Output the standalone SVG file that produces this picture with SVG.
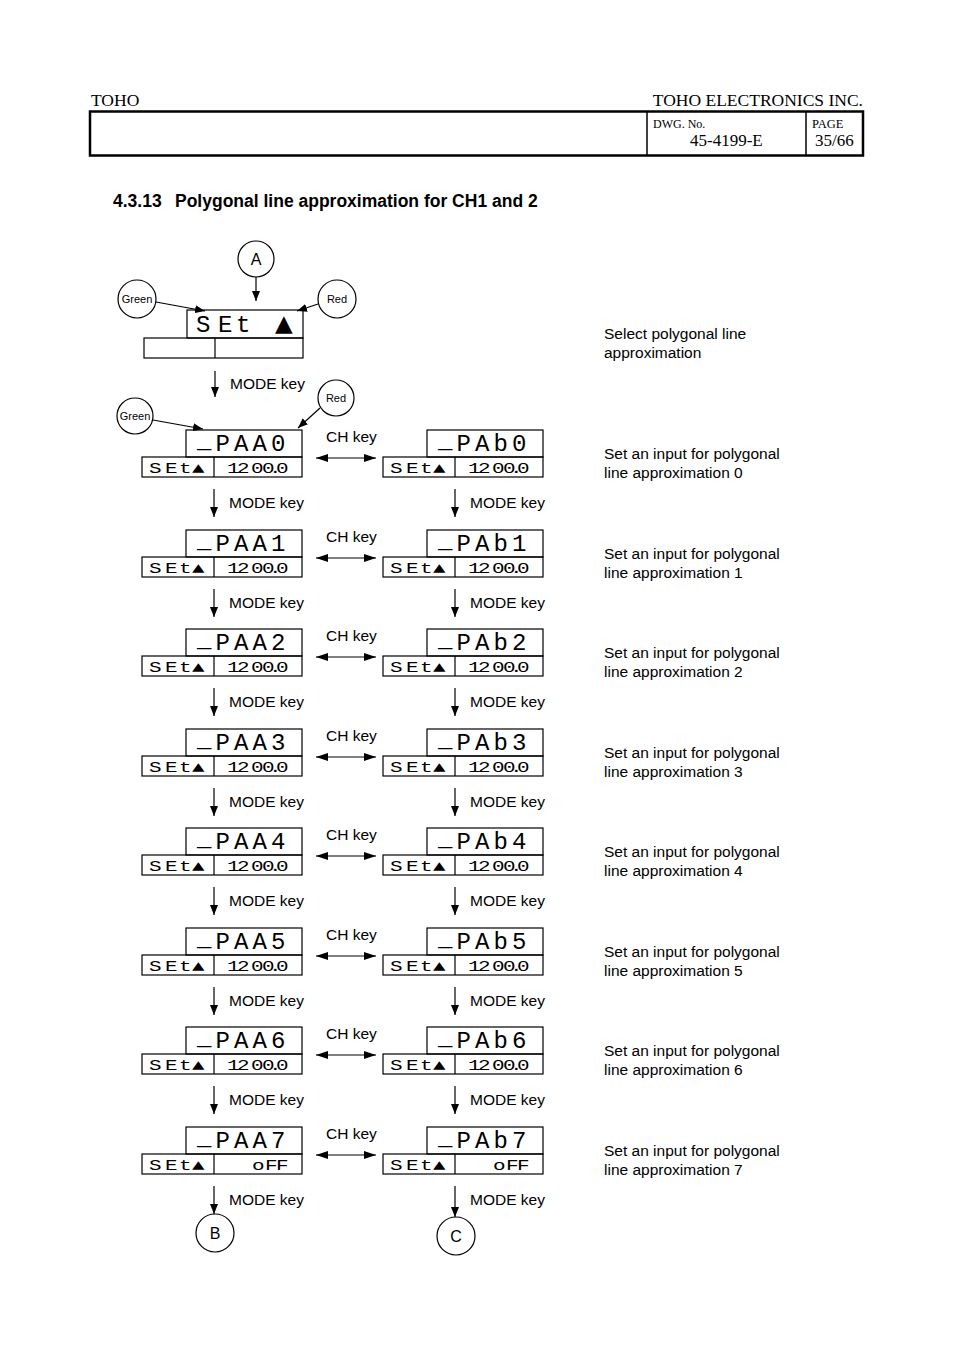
<svg xmlns="http://www.w3.org/2000/svg" width="954" height="1351" viewBox="0 0 954 1351">
<defs>
<style>
.bx{fill:none;stroke:#000;stroke-width:1.2}
.ln{stroke:#000;stroke-width:1.2;fill:none}
.hd{font-family:"Liberation Serif",serif;fill:#000}
.lb{font-family:"Liberation Sans",Arial,sans-serif;font-size:15.5px;fill:#000}
.sm{font-family:"Liberation Sans",Arial,sans-serif;font-size:11px;fill:#000;text-anchor:middle}
.cl{font-family:"Liberation Sans",Arial,sans-serif;font-size:16px;fill:#000;text-anchor:middle}
.up{font-family:"Liberation Mono","DejaVu Sans Mono",monospace;font-size:24px;fill:#000}
.lo{font-family:"Liberation Mono","DejaVu Sans Mono",monospace;font-size:15px;fill:#000}
.tri{font-family:"DejaVu Sans",sans-serif;fill:#000}
.cn{stroke:#000;stroke-width:1.2;fill:none}
</style>
<marker id="ah" viewBox="0 0 10 8" refX="10" refY="4" markerWidth="10" markerHeight="8" markerUnits="userSpaceOnUse" orient="auto-start-reverse"><path d="M0,0 L10,4 L0,8 Z" fill="#000"/></marker>
<marker id="ah2" viewBox="0 0 12 8" refX="12" refY="4" markerWidth="12" markerHeight="8" markerUnits="userSpaceOnUse" orient="auto-start-reverse"><path d="M0,0 L12,4 L0,8 Z" fill="#000"/></marker>
</defs>
<rect width="954" height="1351" fill="#fff"/>
<g id="header">
<text class="hd" x="91" y="106" font-size="17.5">TOHO</text>
<text class="hd" x="863" y="106" font-size="17.5" text-anchor="end">TOHO ELECTRONICS INC.</text>
<rect x="90" y="111.5" width="773" height="44" fill="none" stroke="#000" stroke-width="2.5"/>
<line x1="647" y1="111" x2="647" y2="156" stroke="#000" stroke-width="1.5"/>
<line x1="806" y1="111" x2="806" y2="156" stroke="#000" stroke-width="1.5"/>
<text class="hd" x="653" y="128" font-size="12">DWG. No.</text>
<text class="hd" x="690" y="146" font-size="17">45-4199-E</text>
<text class="hd" x="812" y="128" font-size="12.5">PAGE</text>
<text class="hd" x="815" y="146" font-size="17">35/66</text>
</g>
<g id="title" font-family="Liberation Sans,Arial,sans-serif" font-size="17.5" font-weight="bold">
<text x="113" y="207">4.3.13</text>
<text x="175" y="207">Polygonal line approximation for CH1 and 2</text>
</g>

<g id="circleA"><circle cx="256" cy="259" r="18" class="bx"/><text class="cl" x="256" y="265">A</text></g>
<g id="green1"><circle cx="137" cy="299" r="19" class="bx"/><text class="sm" x="137" y="303">Green</text></g>
<g id="red1"><circle cx="337" cy="299" r="19" class="bx"/><text class="sm" x="337" y="303">Red</text></g>
<g id="green2"><circle cx="135" cy="416" r="18" class="bx"/><text class="sm" x="135" y="420">Green</text></g>
<g id="red2"><circle cx="336" cy="398" r="18" class="bx"/><text class="sm" x="336" y="402">Red</text></g>
<g id="circleB"><circle cx="215" cy="1233" r="19" class="bx"/><text class="cl" x="215" y="1239">B</text></g>
<g id="circleC"><circle cx="456" cy="1236" r="19" class="bx"/><text class="cl" x="456" y="1242">C</text></g>

<g id="set">
<rect x="187" y="310" width="116" height="28" class="bx"/>
<rect x="144" y="338" width="159" height="20" class="bx"/>
<line x1="215" y1="338" x2="215" y2="358" class="ln"/>
<text class="up" font-size="26" x="196 218 236" y="332">SEt</text>
<text class="tri" x="275" y="331" font-size="23">▲</text>
</g>
<g id="desc">
<text class="lb" x="604" y="339">Select polygonal line</text>
<text class="lb" x="604" y="358">approximation</text>
<text class="lb" x="604" y="459">Set an input for polygonal</text><text class="lb" x="604" y="478">line approximation 0</text>
<text class="lb" x="604" y="559">Set an input for polygonal</text><text class="lb" x="604" y="578">line approximation 1</text>
<text class="lb" x="604" y="658">Set an input for polygonal</text><text class="lb" x="604" y="677">line approximation 2</text>
<text class="lb" x="604" y="758">Set an input for polygonal</text><text class="lb" x="604" y="777">line approximation 3</text>
<text class="lb" x="604" y="857">Set an input for polygonal</text><text class="lb" x="604" y="876">line approximation 4</text>
<text class="lb" x="604" y="957">Set an input for polygonal</text><text class="lb" x="604" y="976">line approximation 5</text>
<text class="lb" x="604" y="1056">Set an input for polygonal</text><text class="lb" x="604" y="1075">line approximation 6</text>
<text class="lb" x="604" y="1156">Set an input for polygonal</text><text class="lb" x="604" y="1175">line approximation 7</text>
</g>

<g id="paa0" transform="translate(0,430)"><rect x="186" y="0" width="116" height="27" class="bx"/><rect x="142" y="27" width="160" height="20" class="bx"/><line x1="214" y1="27" x2="214" y2="47" class="ln"/><text class="up"><tspan x="197" y="18">_</tspan><tspan x="215.5 234 252.5 271" y="21">PAA0</tspan></text><text class="lo" transform="translate(149,42.5) scale(1.4,1)" x="0 11.43 21.43 30.71" y="0">SEt▲</text><text class="lo" transform="translate(227,42.5) scale(1.4,1)" x="0 7.14 17.14 25 30 35" y="0">1200.0</text></g>
<g id="pab0" transform="translate(241,430)"><rect x="186" y="0" width="116" height="27" class="bx"/><rect x="142" y="27" width="160" height="20" class="bx"/><line x1="214" y1="27" x2="214" y2="47" class="ln"/><text class="up"><tspan x="197" y="18">_</tspan><tspan x="215.5 234 252.5 271" y="21">PAb0</tspan></text><text class="lo" transform="translate(149,42.5) scale(1.4,1)" x="0 11.43 21.43 30.71" y="0">SEt▲</text><text class="lo" transform="translate(227,42.5) scale(1.4,1)" x="0 7.14 17.14 25 30 35" y="0">1200.0</text></g>

<g id="paa1" transform="translate(0,530)"><rect x="186" y="0" width="116" height="27" class="bx"/><rect x="142" y="27" width="160" height="20" class="bx"/><line x1="214" y1="27" x2="214" y2="47" class="ln"/><text class="up"><tspan x="197" y="18">_</tspan><tspan x="215.5 234 252.5 271" y="21">PAA1</tspan></text><text class="lo" transform="translate(149,42.5) scale(1.4,1)" x="0 11.43 21.43 30.71" y="0">SEt▲</text><text class="lo" transform="translate(227,42.5) scale(1.4,1)" x="0 7.14 17.14 25 30 35" y="0">1200.0</text></g>
<g id="pab1" transform="translate(241,530)"><rect x="186" y="0" width="116" height="27" class="bx"/><rect x="142" y="27" width="160" height="20" class="bx"/><line x1="214" y1="27" x2="214" y2="47" class="ln"/><text class="up"><tspan x="197" y="18">_</tspan><tspan x="215.5 234 252.5 271" y="21">PAb1</tspan></text><text class="lo" transform="translate(149,42.5) scale(1.4,1)" x="0 11.43 21.43 30.71" y="0">SEt▲</text><text class="lo" transform="translate(227,42.5) scale(1.4,1)" x="0 7.14 17.14 25 30 35" y="0">1200.0</text></g>

<g id="paa2" transform="translate(0,629)"><rect x="186" y="0" width="116" height="27" class="bx"/><rect x="142" y="27" width="160" height="20" class="bx"/><line x1="214" y1="27" x2="214" y2="47" class="ln"/><text class="up"><tspan x="197" y="18">_</tspan><tspan x="215.5 234 252.5 271" y="21">PAA2</tspan></text><text class="lo" transform="translate(149,42.5) scale(1.4,1)" x="0 11.43 21.43 30.71" y="0">SEt▲</text><text class="lo" transform="translate(227,42.5) scale(1.4,1)" x="0 7.14 17.14 25 30 35" y="0">1200.0</text></g>
<g id="pab2" transform="translate(241,629)"><rect x="186" y="0" width="116" height="27" class="bx"/><rect x="142" y="27" width="160" height="20" class="bx"/><line x1="214" y1="27" x2="214" y2="47" class="ln"/><text class="up"><tspan x="197" y="18">_</tspan><tspan x="215.5 234 252.5 271" y="21">PAb2</tspan></text><text class="lo" transform="translate(149,42.5) scale(1.4,1)" x="0 11.43 21.43 30.71" y="0">SEt▲</text><text class="lo" transform="translate(227,42.5) scale(1.4,1)" x="0 7.14 17.14 25 30 35" y="0">1200.0</text></g>

<g id="paa3" transform="translate(0,729)"><rect x="186" y="0" width="116" height="27" class="bx"/><rect x="142" y="27" width="160" height="20" class="bx"/><line x1="214" y1="27" x2="214" y2="47" class="ln"/><text class="up"><tspan x="197" y="18">_</tspan><tspan x="215.5 234 252.5 271" y="21">PAA3</tspan></text><text class="lo" transform="translate(149,42.5) scale(1.4,1)" x="0 11.43 21.43 30.71" y="0">SEt▲</text><text class="lo" transform="translate(227,42.5) scale(1.4,1)" x="0 7.14 17.14 25 30 35" y="0">1200.0</text></g>
<g id="pab3" transform="translate(241,729)"><rect x="186" y="0" width="116" height="27" class="bx"/><rect x="142" y="27" width="160" height="20" class="bx"/><line x1="214" y1="27" x2="214" y2="47" class="ln"/><text class="up"><tspan x="197" y="18">_</tspan><tspan x="215.5 234 252.5 271" y="21">PAb3</tspan></text><text class="lo" transform="translate(149,42.5) scale(1.4,1)" x="0 11.43 21.43 30.71" y="0">SEt▲</text><text class="lo" transform="translate(227,42.5) scale(1.4,1)" x="0 7.14 17.14 25 30 35" y="0">1200.0</text></g>

<g id="paa4" transform="translate(0,828)"><rect x="186" y="0" width="116" height="27" class="bx"/><rect x="142" y="27" width="160" height="20" class="bx"/><line x1="214" y1="27" x2="214" y2="47" class="ln"/><text class="up"><tspan x="197" y="18">_</tspan><tspan x="215.5 234 252.5 271" y="21">PAA4</tspan></text><text class="lo" transform="translate(149,42.5) scale(1.4,1)" x="0 11.43 21.43 30.71" y="0">SEt▲</text><text class="lo" transform="translate(227,42.5) scale(1.4,1)" x="0 7.14 17.14 25 30 35" y="0">1200.0</text></g>
<g id="pab4" transform="translate(241,828)"><rect x="186" y="0" width="116" height="27" class="bx"/><rect x="142" y="27" width="160" height="20" class="bx"/><line x1="214" y1="27" x2="214" y2="47" class="ln"/><text class="up"><tspan x="197" y="18">_</tspan><tspan x="215.5 234 252.5 271" y="21">PAb4</tspan></text><text class="lo" transform="translate(149,42.5) scale(1.4,1)" x="0 11.43 21.43 30.71" y="0">SEt▲</text><text class="lo" transform="translate(227,42.5) scale(1.4,1)" x="0 7.14 17.14 25 30 35" y="0">1200.0</text></g>

<g id="paa5" transform="translate(0,928)"><rect x="186" y="0" width="116" height="27" class="bx"/><rect x="142" y="27" width="160" height="20" class="bx"/><line x1="214" y1="27" x2="214" y2="47" class="ln"/><text class="up"><tspan x="197" y="18">_</tspan><tspan x="215.5 234 252.5 271" y="21">PAA5</tspan></text><text class="lo" transform="translate(149,42.5) scale(1.4,1)" x="0 11.43 21.43 30.71" y="0">SEt▲</text><text class="lo" transform="translate(227,42.5) scale(1.4,1)" x="0 7.14 17.14 25 30 35" y="0">1200.0</text></g>
<g id="pab5" transform="translate(241,928)"><rect x="186" y="0" width="116" height="27" class="bx"/><rect x="142" y="27" width="160" height="20" class="bx"/><line x1="214" y1="27" x2="214" y2="47" class="ln"/><text class="up"><tspan x="197" y="18">_</tspan><tspan x="215.5 234 252.5 271" y="21">PAb5</tspan></text><text class="lo" transform="translate(149,42.5) scale(1.4,1)" x="0 11.43 21.43 30.71" y="0">SEt▲</text><text class="lo" transform="translate(227,42.5) scale(1.4,1)" x="0 7.14 17.14 25 30 35" y="0">1200.0</text></g>

<g id="paa6" transform="translate(0,1027)"><rect x="186" y="0" width="116" height="27" class="bx"/><rect x="142" y="27" width="160" height="20" class="bx"/><line x1="214" y1="27" x2="214" y2="47" class="ln"/><text class="up"><tspan x="197" y="18">_</tspan><tspan x="215.5 234 252.5 271" y="21">PAA6</tspan></text><text class="lo" transform="translate(149,42.5) scale(1.4,1)" x="0 11.43 21.43 30.71" y="0">SEt▲</text><text class="lo" transform="translate(227,42.5) scale(1.4,1)" x="0 7.14 17.14 25 30 35" y="0">1200.0</text></g>
<g id="pab6" transform="translate(241,1027)"><rect x="186" y="0" width="116" height="27" class="bx"/><rect x="142" y="27" width="160" height="20" class="bx"/><line x1="214" y1="27" x2="214" y2="47" class="ln"/><text class="up"><tspan x="197" y="18">_</tspan><tspan x="215.5 234 252.5 271" y="21">PAb6</tspan></text><text class="lo" transform="translate(149,42.5) scale(1.4,1)" x="0 11.43 21.43 30.71" y="0">SEt▲</text><text class="lo" transform="translate(227,42.5) scale(1.4,1)" x="0 7.14 17.14 25 30 35" y="0">1200.0</text></g>

<g id="paa7" transform="translate(0,1127)"><rect x="186" y="0" width="116" height="27" class="bx"/><rect x="142" y="27" width="160" height="20" class="bx"/><line x1="214" y1="27" x2="214" y2="47" class="ln"/><text class="up"><tspan x="197" y="18">_</tspan><tspan x="215.5 234 252.5 271" y="21">PAA7</tspan></text><text class="lo" transform="translate(149,42.5) scale(1.4,1)" x="0 11.43 21.43 30.71" y="0">SEt▲</text><text class="lo" transform="translate(252,42.5) scale(1.4,1)" x="0 9.29 17.14" y="0">oFF</text></g>
<g id="pab7" transform="translate(241,1127)"><rect x="186" y="0" width="116" height="27" class="bx"/><rect x="142" y="27" width="160" height="20" class="bx"/><line x1="214" y1="27" x2="214" y2="47" class="ln"/><text class="up"><tspan x="197" y="18">_</tspan><tspan x="215.5 234 252.5 271" y="21">PAb7</tspan></text><text class="lo" transform="translate(149,42.5) scale(1.4,1)" x="0 11.43 21.43 30.71" y="0">SEt▲</text><text class="lo" transform="translate(252,42.5) scale(1.4,1)" x="0 9.29 17.14" y="0">oFF</text></g>

<g id="labels">
<text class="lb" x="230" y="389">MODE key</text>
<text class="lb" x="326" y="442">CH key</text>
<text class="lb" x="326" y="542">CH key</text>
<text class="lb" x="326" y="641">CH key</text>
<text class="lb" x="326" y="741">CH key</text>
<text class="lb" x="326" y="840">CH key</text>
<text class="lb" x="326" y="940">CH key</text>
<text class="lb" x="326" y="1039">CH key</text>
<text class="lb" x="326" y="1139">CH key</text>
<text class="lb" x="229" y="508">MODE key</text><text class="lb" x="470" y="508">MODE key</text>
<text class="lb" x="229" y="608">MODE key</text><text class="lb" x="470" y="608">MODE key</text>
<text class="lb" x="229" y="707">MODE key</text><text class="lb" x="470" y="707">MODE key</text>
<text class="lb" x="229" y="807">MODE key</text><text class="lb" x="470" y="807">MODE key</text>
<text class="lb" x="229" y="906">MODE key</text><text class="lb" x="470" y="906">MODE key</text>
<text class="lb" x="229" y="1006">MODE key</text><text class="lb" x="470" y="1006">MODE key</text>
<text class="lb" x="229" y="1105">MODE key</text><text class="lb" x="470" y="1105">MODE key</text>
<text class="lb" x="229" y="1205">MODE key</text><text class="lb" x="470" y="1205">MODE key</text>
</g>

<g id="connectors">
<line x1="256" y1="277" x2="256" y2="301" class="cn" marker-end="url(#ah)"/>
<line x1="156" y1="302" x2="205" y2="311" class="cn" marker-end="url(#ah)"/>
<line x1="318" y1="304" x2="297" y2="311" class="cn" marker-end="url(#ah)"/>
<line x1="215" y1="371" x2="215" y2="397" class="cn" marker-end="url(#ah)"/>
<line x1="153" y1="420" x2="203" y2="429" class="cn" marker-end="url(#ah)"/>
<line x1="320" y1="408" x2="298" y2="428" class="cn" marker-end="url(#ah)"/>
<line x1="316" y1="458" x2="376" y2="458" class="cn" marker-start="url(#ah2)" marker-end="url(#ah2)"/>
<line x1="316" y1="558" x2="376" y2="558" class="cn" marker-start="url(#ah2)" marker-end="url(#ah2)"/>
<line x1="316" y1="657" x2="376" y2="657" class="cn" marker-start="url(#ah2)" marker-end="url(#ah2)"/>
<line x1="316" y1="757" x2="376" y2="757" class="cn" marker-start="url(#ah2)" marker-end="url(#ah2)"/>
<line x1="316" y1="856" x2="376" y2="856" class="cn" marker-start="url(#ah2)" marker-end="url(#ah2)"/>
<line x1="316" y1="956" x2="376" y2="956" class="cn" marker-start="url(#ah2)" marker-end="url(#ah2)"/>
<line x1="316" y1="1055" x2="376" y2="1055" class="cn" marker-start="url(#ah2)" marker-end="url(#ah2)"/>
<line x1="316" y1="1155" x2="376" y2="1155" class="cn" marker-start="url(#ah2)" marker-end="url(#ah2)"/>
<line x1="214" y1="489" x2="214" y2="517" class="cn" marker-end="url(#ah)"/><line x1="455" y1="489" x2="455" y2="517" class="cn" marker-end="url(#ah)"/>
<line x1="214" y1="589" x2="214" y2="617" class="cn" marker-end="url(#ah)"/><line x1="455" y1="589" x2="455" y2="617" class="cn" marker-end="url(#ah)"/>
<line x1="214" y1="688" x2="214" y2="716" class="cn" marker-end="url(#ah)"/><line x1="455" y1="688" x2="455" y2="716" class="cn" marker-end="url(#ah)"/>
<line x1="214" y1="788" x2="214" y2="816" class="cn" marker-end="url(#ah)"/><line x1="455" y1="788" x2="455" y2="816" class="cn" marker-end="url(#ah)"/>
<line x1="214" y1="887" x2="214" y2="915" class="cn" marker-end="url(#ah)"/><line x1="455" y1="887" x2="455" y2="915" class="cn" marker-end="url(#ah)"/>
<line x1="214" y1="987" x2="214" y2="1015" class="cn" marker-end="url(#ah)"/><line x1="455" y1="987" x2="455" y2="1015" class="cn" marker-end="url(#ah)"/>
<line x1="214" y1="1086" x2="214" y2="1114" class="cn" marker-end="url(#ah)"/><line x1="455" y1="1086" x2="455" y2="1114" class="cn" marker-end="url(#ah)"/>
<line x1="214" y1="1186" x2="214" y2="1214" class="cn" marker-end="url(#ah)"/><line x1="455" y1="1186" x2="455" y2="1217" class="cn" marker-end="url(#ah)"/>
</g>
</svg>
